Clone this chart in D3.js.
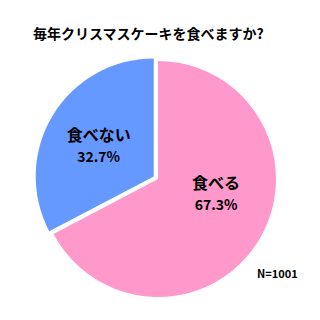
<!DOCTYPE html>
<html><head><meta charset="utf-8">
<script src="https://cdn.jsdelivr.net/npm/d3@7"></script>
<style>body{margin:0;background:#fff}svg{display:block}text{font-family:"Noto Sans CJK JP","Noto Sans",sans-serif;font-weight:bold;fill:#000}</style>
</head><body>
<script>
const title = "毎年クリスマスケーキを食べますか?";
const categories = ["食べる", "食べない"];
const values = [67.3, 32.7];
const colors = ["#FF99CC", "#6699FF"];
const note = "N=1001";

const W = 320, H = 320;
const svg = d3.select("body").append("svg").attr("width", W).attr("height", H);
svg.append("text").attr("x", 33).attr("y", 39).attr("font-size", 14).text(title);

const cx = 158, cy = 179, r = 118;
const pie = d3.pie().sort(null).value(d => d.v);
const data = pie(categories.map((c, i) => ({c, v: values[i], col: colors[i]})));
const arc = d3.arc().innerRadius(0).outerRadius(r);
const labelArc = d3.arc().innerRadius(0).outerRadius(r * 1.09);
const explode = [0, 5];
const labelAdj = [[3, -20], [0, 1]];

const g = svg.append("g").attr("transform", `translate(${cx},${cy})`);
data.forEach((d, i) => {
  const mid = (d.startAngle + d.endAngle) / 2;
  const ox = Math.sin(mid) * explode[i], oy = -Math.cos(mid) * explode[i];
  const sg = g.append("g").attr("transform", `translate(${ox},${oy})`);
  sg.append("path").attr("d", arc(d)).attr("fill", d.data.col);
  const [lx, ly] = labelArc.centroid(d);
  const tx = lx + labelAdj[i][0], ty = ly + labelAdj[i][1];
  sg.append("text").attr("x", tx).attr("y", ty - 3).attr("text-anchor", "middle").attr("font-size", 16).text(d.data.c);
  sg.append("text").attr("x", tx).attr("y", ty + 18).attr("text-anchor", "middle").attr("font-size", 14).text(d.data.v.toFixed(1) + "%");
});
svg.append("text").attr("x", 257).attr("y", 278).attr("font-size", 11).text(note);
</script>
</body></html>
